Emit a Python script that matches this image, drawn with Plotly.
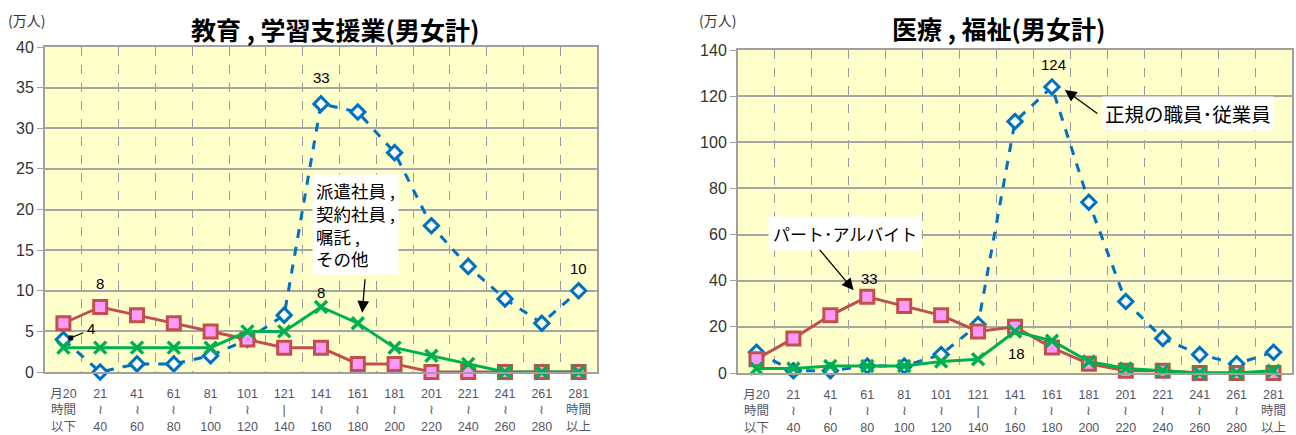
import plotly.graph_objects as go

categories = ["月20<br>時間<br>以下", "21<br>≀<br>40", "41<br>≀<br>60", "61<br>≀<br>80", "81<br>≀<br>100",
              "101<br>≀<br>120", "121<br>|<br>140", "141<br>≀<br>160", "161<br>≀<br>180", "181<br>≀<br>200",
              "201<br>≀<br>220", "221<br>≀<br>240", "241<br>≀<br>260", "261<br>≀<br>280", "281<br>時間<br>以上"]

edu_regular = [4, 0, 1, 1, 2, 4, 7, 33, 32, 27, 18, 13, 9, 6, 10]
edu_part = [6, 8, 7, 6, 5, 4, 3, 3, 1, 1, 0, 0, 0, 0, 0]
edu_dispatch = [3, 3, 3, 3, 3, 5, 5, 8, 6, 3, 2, 1, 0, 0, 0]

med_regular = [9, 1, 1, 3, 3, 8, 21, 109, 124, 74, 31, 15, 8, 4, 9]
med_part = [6, 15, 25, 33, 29, 25, 18, 20, 11, 4, 1, 1, 0, 0, 0]
med_dispatch = [2, 2, 3, 3, 3, 5, 6, 18, 14, 5, 2, 1, 0, 0, 1]

title_left = "教育 , 学習支援業(男女計)"
title_right = "医療 , 福祉(男女計)"
unit = "(万人)"
label_dispatch = "派遣社員 ,<br>契約社員 ,<br>嘱託 ,<br>その他"
label_regular = "正規の職員･従業員"
label_part = "パート･アルバイト"

BLUE = "#0070C0"
RED = "#C0504D"
PINK = "#FF99FF"
GREEN = "#00B050"
BG = "#FFFFCC"
CJK = "Noto Sans CJK JP"
NUM = "Liberation Sans, Arial"

xs = list(range(len(categories)))

fig = go.Figure()


def add_series(xa, ya, reg, part, disp):
    fig.add_trace(go.Scatter(x=xs, y=reg, xaxis=xa, yaxis=ya, mode="lines+markers",
                             line=dict(color=BLUE, width=3, dash="dash"),
                             marker=dict(symbol="diamond", size=11, color="white",
                                         line=dict(color=BLUE, width=3)),
                             showlegend=False, cliponaxis=False))
    fig.add_trace(go.Scatter(x=xs, y=part, xaxis=xa, yaxis=ya, mode="lines+markers",
                             line=dict(color=RED, width=3),
                             marker=dict(symbol="square", size=13, color=PINK,
                                         line=dict(color=RED, width=3)),
                             showlegend=False, cliponaxis=False))
    fig.add_trace(go.Scatter(x=xs, y=disp, xaxis=xa, yaxis=ya, mode="lines+markers",
                             line=dict(color=GREEN, width=3),
                             marker=dict(symbol="x-thin", size=12, color=GREEN,
                                         line=dict(color=GREEN, width=3.5)),
                             showlegend=False, cliponaxis=False))


add_series("x", "y", edu_regular, edu_part, edu_dispatch)
add_series("x2", "y2", med_regular, med_part, med_dispatch)

xaxis_common = dict(
    range=[-0.5, len(categories) - 0.5], tickmode="array", tickvals=xs, ticktext=categories,
    showgrid=False, showline=True, linecolor="#A0A0A0", linewidth=2, mirror=True,
    ticks="", zeroline=False, fixedrange=True, automargin=False, ticklabelstandoff=9,
    tickfont=dict(family="Liberation Sans, Noto Sans CJK JP", size=12.5, color="#555566"),
    minor=dict(tickmode="linear", tick0=0.5, dtick=1, showgrid=True,
               gridcolor="#9A9A9A", griddash="dash", gridwidth=1, ticks=""),
)
yaxis_common = dict(
    showgrid=True, gridcolor="#A6A6A6", gridwidth=1.5, showline=True, linecolor="#A0A0A0",
    linewidth=2, mirror=True, ticks="outside", ticklen=6, tickcolor="#A0A0A0",
    zeroline=False, fixedrange=True, automargin=False,
    tickfont=dict(family=NUM, size=16, color="#333333"),
)

fig.update_layout(
    width=1296, height=435, margin=dict(l=0, r=0, t=0, b=0, autoexpand=False),
    paper_bgcolor="white", plot_bgcolor=BG,
    xaxis=dict(domain=[45 / 1296, 597 / 1296], anchor="y", **xaxis_common),
    yaxis=dict(domain=[(435 - 372) / 435, (435 - 47) / 435], anchor="x", range=[0, 40],
               tickvals=[0, 5, 10, 15, 20, 25, 30, 35, 40], **yaxis_common),
    xaxis2=dict(domain=[738 / 1296, 1292 / 1296], anchor="y2", **xaxis_common),
    yaxis2=dict(domain=[(435 - 373) / 435, (435 - 50) / 435], anchor="x2", range=[0, 140],
                tickvals=[0, 20, 40, 60, 80, 100, 120, 140], **yaxis_common),
)

ann = []
# titles and units
ann.append(dict(text="<b>" + title_left + "</b>", x=335 / 1296, y=(435 - 29) / 435, xref="paper", yref="paper",
                showarrow=False, font=dict(family=CJK, size=25, color="black"), xanchor="center", yanchor="middle"))
ann.append(dict(text="<b>" + title_right + "</b>", x=998 / 1296, y=(435 - 28) / 435, xref="paper", yref="paper",
                showarrow=False, font=dict(family=CJK, size=25, color="black"), xanchor="center", yanchor="middle"))
ann.append(dict(text=unit, x=6 / 1296, y=(435 - 20) / 435, xref="paper", yref="paper", showarrow=False,
                font=dict(family=CJK, size=14, color="#333333"), xanchor="left", yanchor="middle"))
ann.append(dict(text=unit, x=697 / 1296, y=(435 - 20) / 435, xref="paper", yref="paper", showarrow=False,
                font=dict(family=CJK, size=14, color="#333333"), xanchor="left", yanchor="middle"))

numfont = dict(family=NUM, size=15, color="black")
# left chart value labels
ann.append(dict(text=str(edu_regular[7]), x=7, y=36.3, xref="x", yref="y", showarrow=False, font=numfont))
ann.append(dict(text=str(edu_part[1]), x=1, y=10.9, xref="x", yref="y", showarrow=False, font=numfont))
ann.append(dict(text=str(edu_dispatch[7]), x=7, y=9.8, xref="x", yref="y", showarrow=False, font=numfont))
ann.append(dict(text=str(edu_regular[14]), x=14, y=12.8, xref="x", yref="y", showarrow=False, font=numfont))
ann.append(dict(text=str(edu_regular[0]), x=0.75, y=5.3, xref="x", yref="y", showarrow=False, font=numfont))
ann.append(dict(text="", x=0.2, y=4.2, ax=0.58, ay=4.9, xref="x", yref="y", axref="x", ayref="y",
                showarrow=True, arrowhead=7, arrowsize=1, arrowwidth=1.2, arrowcolor="black", standoff=0))
ann.append(dict(text=label_dispatch, x=7.93, y=18.1, xref="x", yref="y",
                showarrow=False, align="left", bgcolor="white", borderpad=3,
                font=dict(family=CJK, size=17.5, color="black")))
ann.append(dict(text="", x=8.12, y=7.3, ax=8.2, ay=11.6, xref="x", yref="y", axref="x", ayref="y",
                showarrow=True, arrowhead=2, arrowsize=1.8, arrowwidth=1.3, arrowcolor="black", standoff=0))

# right chart value labels
ann.append(dict(text=str(med_regular[8]), x=8.05, y=133.5, xref="x2", yref="y2", showarrow=False, font=numfont))
ann.append(dict(text=str(med_part[3]), x=3.06, y=41, xref="x2", yref="y2", showarrow=False, font=numfont))
ann.append(dict(text=str(med_dispatch[7]), x=7.05, y=8.6, xref="x2", yref="y2", showarrow=False, font=numfont))
ann.append(dict(text=label_regular, x=11.68, y=112.4, xref="x2", yref="y2", showarrow=False,
                bgcolor="white", borderpad=2, font=dict(family=CJK, size=19.5, color="black")))
ann.append(dict(text="", x=8.35, y=122.7, ax=9.27, ay=112, xref="x2", yref="y2", axref="x2", ayref="y2",
                showarrow=True, arrowhead=2, arrowsize=1.8, arrowwidth=1.3, arrowcolor="black", standoff=0))
ann.append(dict(text=label_part, x=2.41, y=60.5, xref="x2", yref="y2", showarrow=False,
                bgcolor="white", borderpad=4, font=dict(family=CJK, size=17, color="black")))
ann.append(dict(text="", x=2.63, y=35.9, ax=1.68, ay=54, xref="x2", yref="y2", axref="x2", ayref="y2",
                showarrow=True, arrowhead=2, arrowsize=1.8, arrowwidth=1.3, arrowcolor="black", standoff=0))

fig.update_layout(annotations=ann)
fig.write_html("out.html", config={"displayModeBar": False},
               post_script="document.body.style.margin='0';document.body.style.padding='0';")
